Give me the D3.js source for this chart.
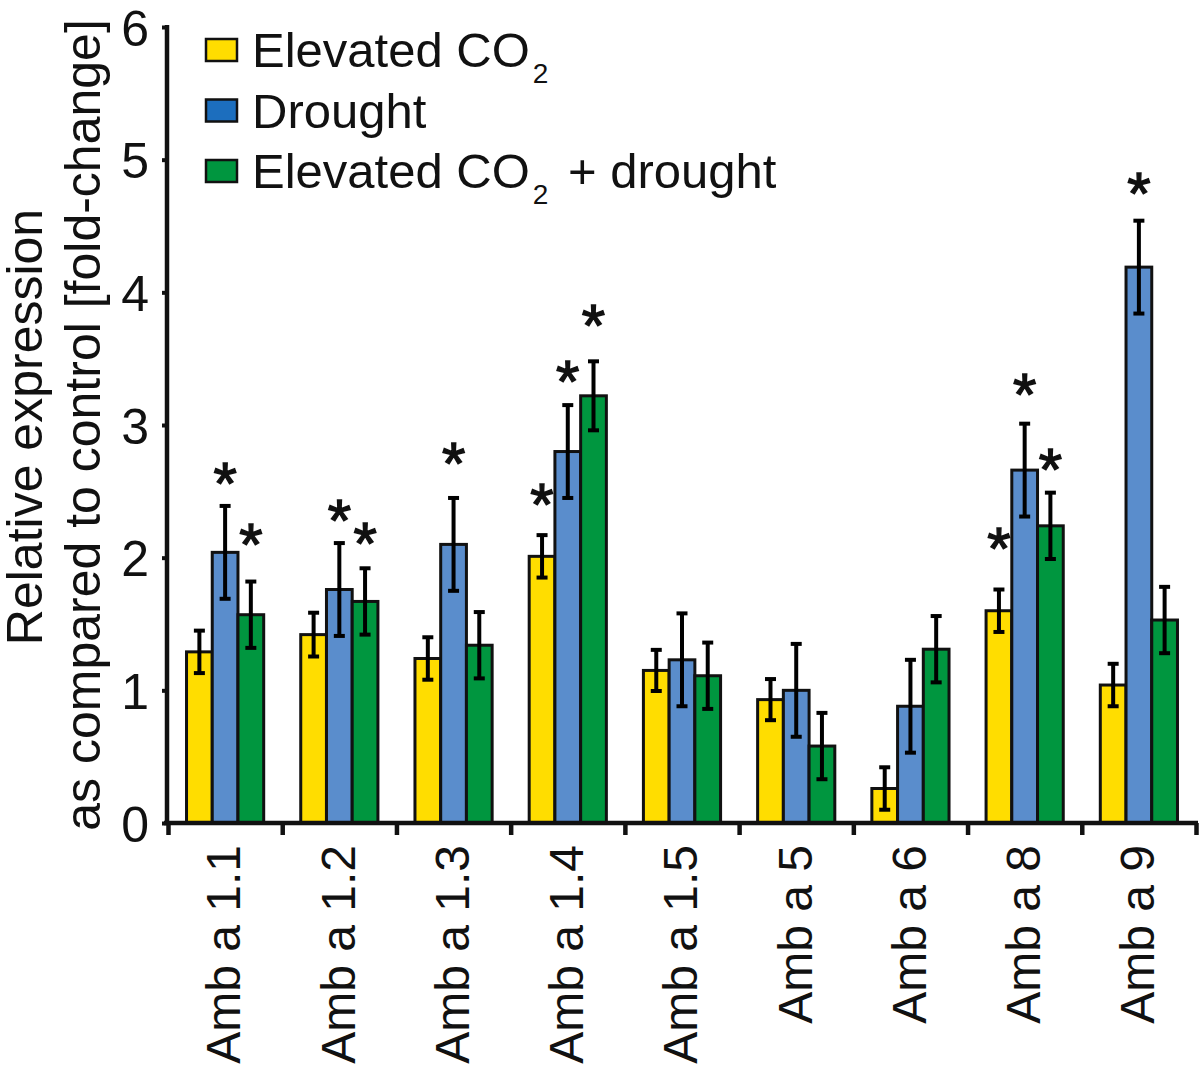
<!DOCTYPE html>
<html>
<head>
<meta charset="utf-8">
<script src="https://cdn.jsdelivr.net/npm/d3@7"></script>
<style>
  html, body { margin: 0; padding: 0; background: #fff; }
  svg { display: block; font-family: "Liberation Sans", Arial, Helvetica, sans-serif; }
</style>
</head>
<body>
<svg id="chart" width="1200" height="1069"></svg>
<script>
// ---------- DATA ----------
const categories = ["Amb a 1.1", "Amb a 1.2", "Amb a 1.3", "Amb a 1.4", "Amb a 1.5", "Amb a 5", "Amb a 6", "Amb a 8", "Amb a 9"];
const seriesNames = ["Elevated CO2", "Drought", "Elevated CO2 + drought"];

const elevatedCO2      = [1.29, 1.42, 1.24, 2.01, 1.15, 0.93, 0.26, 1.60, 1.04];
const drought          = [2.04, 1.76, 2.10, 2.80, 1.23, 1.00, 0.88, 2.66, 4.19];
const elevatedDrought  = [1.57, 1.67, 1.34, 3.22, 1.11, 0.58, 1.31, 2.24, 1.53];

const errElevatedCO2     = [0.16, 0.165, 0.16, 0.16, 0.155, 0.155, 0.16, 0.16, 0.16];
const errDrought         = [0.35, 0.35, 0.35, 0.35, 0.35, 0.35, 0.35, 0.35, 0.35];
const errElevatedDrought = [0.25, 0.25, 0.25, 0.26, 0.25, 0.25, 0.25, 0.25, 0.25];

// significance stars: value level (fold-change) at which star is centred, null = none
const starElevatedCO2     = [null, null, null, 2.50, null, null, null, 2.17, null];
const starDrought         = [2.66, 2.38, 2.81, 3.43, null, null, null, 3.33, 4.85];
const starElevatedDrought = [2.20, 2.21, null, 3.85, null, null, null, 2.77, null];

const yTicks = [0, 1, 2, 3, 4, 5, 6];

const barColors    = ["#FFDD00", "#5A8DCC", "#00963F"];
const legendColors = ["#FFDD00", "#1C6EBE", "#00963F"];

// ---------- LAYOUT ----------
const svg = d3.select("#chart");
const yAxisX = 167, xStart = 168, xEnd = 1196;
const y0 = 823, yTop = 27;

const y = d3.scaleLinear().domain([0, 6]).range([y0, yTop]);
const x0 = d3.scaleBand().domain(categories).range([xStart, xEnd]).paddingInner(0).paddingOuter(0);
const x1 = d3.scaleBand().domain([0, 1, 2]).range([0, x0.bandwidth()]).paddingInner(0).paddingOuter(0.72);

const values = [elevatedCO2, drought, elevatedDrought];
const errs = [errElevatedCO2, errDrought, errElevatedDrought];
const stars = [starElevatedCO2, starDrought, starElevatedDrought];

const data = [];
categories.forEach((c, i) => {
  for (let s = 0; s < 3; s++) {
    data.push({ cat: c, s, v: values[s][i], e: errs[s][i], star: stars[s][i] });
  }
});

// ---------- BARS ----------
const g = svg.append("g");
g.selectAll("rect.bar").data(data).join("rect")
  .attr("class", "bar")
  .attr("x", d => x0(d.cat) + x1(d.s))
  .attr("y", d => y(d.v))
  .attr("width", x1.bandwidth())
  .attr("height", d => y(0) - y(d.v))
  .attr("fill", d => barColors[d.s])
  .attr("stroke", "#111")
  .attr("stroke-width", 3);

// ---------- ERROR BARS ----------
const cx = d => x0(d.cat) + x1(d.s) + x1.bandwidth() / 2;
const eg = g.append("g").attr("stroke", "#000").attr("stroke-width", 4);
eg.selectAll("line.ev").data(data).join("line")
  .attr("x1", cx).attr("x2", cx)
  .attr("y1", d => y(d.v + d.e)).attr("y2", d => y(d.v - d.e));
eg.selectAll("line.et").data(data).join("line")
  .attr("x1", d => cx(d) - 5.5).attr("x2", d => cx(d) + 5.5)
  .attr("y1", d => y(d.v + d.e)).attr("y2", d => y(d.v + d.e));
eg.selectAll("line.eb").data(data).join("line")
  .attr("x1", d => cx(d) - 5.5).attr("x2", d => cx(d) + 5.5)
  .attr("y1", d => y(d.v - d.e)).attr("y2", d => y(d.v - d.e));

// ---------- STARS ----------
g.selectAll("text.star").data(data.filter(d => d.star != null)).join("text")
  .attr("class", "star")
  .attr("x", cx)
  .attr("y", d => y(d.star) + 34)
  .attr("text-anchor", "middle")
  .attr("font-size", 60)
  .attr("fill", "#111")
  .attr("stroke", "#111")
  .attr("stroke-width", 1.4)
  .text("*");

// ---------- Y AXIS ----------
const yAxis = d3.axisLeft(y).tickValues(yTicks).tickFormat(d3.format("d")).tickSize(5).tickPadding(13);
const yg = svg.append("g").attr("transform", `translate(${yAxisX},0)`).call(yAxis);
yg.select(".domain").attr("stroke", "#111").attr("stroke-width", 4.5).attr("d", `M0,${yTop - 2}V${y0 + 2}`);
yg.selectAll(".tick line").attr("stroke", "#111").attr("stroke-width", 4);
yg.selectAll(".tick text").attr("font-size", 50).attr("fill", "#111")
  .attr("font-family", "Liberation Sans, Arial, sans-serif").attr("dy", "0.36em");

// ---------- X AXIS ----------
const xb = d3.scaleLinear().domain([0, categories.length]).range([xStart, xEnd]);
const xAxis = d3.axisBottom(xb).tickValues(d3.range(categories.length + 1)).tickFormat("").tickSize(12).tickSizeOuter(0);
const xg = svg.append("g").attr("transform", `translate(0,${y0})`).call(xAxis);
xg.select(".domain").attr("stroke", "#111").attr("stroke-width", 4.5).attr("d", `M${yAxisX - 3},0H${xEnd + 2}`);
xg.selectAll(".tick line").attr("stroke", "#111").attr("stroke-width", 4.5);

// category labels
svg.append("g").selectAll("text.cat").data(categories).join("text")
  .attr("class", "cat")
  .attr("transform", d => `translate(${x0(d) + x0.bandwidth() / 2},845) rotate(-90)`)
  .attr("text-anchor", "end")
  .attr("dy", "0.32em")
  .attr("font-size", 48)
  .attr("fill", "#111")
  .text(d => d);

// ---------- Y TITLE ----------
const yTitle = svg.append("g").attr("font-size", 50).attr("fill", "#111");
yTitle.append("text")
  .attr("transform", "translate(42,427) rotate(-90)")
  .attr("text-anchor", "middle")
  .text("Relative expression");
yTitle.append("text")
  .attr("transform", "translate(100,425) rotate(-90)")
  .attr("text-anchor", "middle")
  .text("as compared to control [fold-change]");

// ---------- LEGEND ----------
const legend = svg.append("g");
const legendRows = seriesNames.map((n, i) => ({ n, i }));
const lg = legend.selectAll("g").data(legendRows).join("g")
  .attr("transform", d => `translate(206,${50 + d.i * 60.5})`);
lg.append("rect")
  .attr("x", 0).attr("y", -11).attr("width", 31).attr("height", 22)
  .attr("fill", d => legendColors[d.i]).attr("stroke", "#111").attr("stroke-width", 2.5);
const lt = lg.append("text").attr("x", 46).attr("y", 17).attr("font-size", 49).attr("fill", "#111");
lt.each(function(d) {
  const t = d3.select(this);
  const parts = d.n.split("CO2");
  if (parts.length === 1) { t.text(d.n); return; }
  t.append("tspan").text(parts[0] + "CO");
  t.append("tspan").attr("font-size", 28).attr("dy", 16).attr("dx", 3).text("2");
  if (parts[1]) t.append("tspan").attr("dy", -16).attr("dx", 6).text(parts[1]);
});
</script>
</body>
</html>
